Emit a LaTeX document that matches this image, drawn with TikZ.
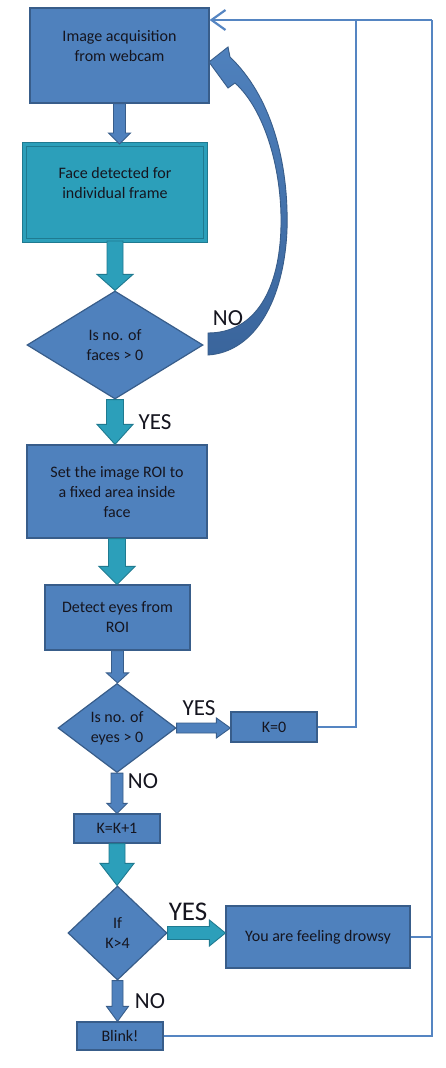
\documentclass[tikz,border=0pt]{standalone}
\usepackage{fontspec}
\setmainfont{Carlito}
\usetikzlibrary{arrows.meta,calc,shapes.geometric}

\definecolor{boxblue}{HTML}{4F81BD}
\definecolor{boxedge}{HTML}{385D8A}
\definecolor{tealfill}{HTML}{2C9FBA}
\definecolor{tealedge}{HTML}{1F7A90}
\definecolor{lineblue}{HTML}{5585C2}
\definecolor{inktext}{HTML}{15151F}
\definecolor{curvedark}{HTML}{3A659C}

% vertical block arrow: start, end, shaft half-width, head half-width, head length, style
\newcommand\downblock[6]{%
  \path[#6] let \p1=(#1), \p2=(#2) in
    (\x1-#3pt,\y1) -- (\x1+#3pt,\y1) -- (\x1+#3pt,\y2+#5pt) -- (\x1+#4pt,\y2+#5pt)
    -- (\x1,\y2) -- (\x1-#4pt,\y2+#5pt) -- (\x1-#3pt,\y2+#5pt) -- cycle;}
% horizontal block arrow, pointing right
\newcommand\rightblock[6]{%
  \path[#6] let \p1=(#1), \p2=(#2) in
    (\x1,\y1+#3pt) -- (\x2-#5pt,\y1+#3pt) -- (\x2-#5pt,\y1+#4pt) -- (\x2,\y1)
    -- (\x2-#5pt,\y1-#4pt) -- (\x2-#5pt,\y1-#3pt) -- (\x1,\y1-#3pt) -- cycle;}

\tikzset{
  box/.style={rectangle, draw=boxedge, line width=1.2pt, fill=boxblue, text=inktext,
    align=center, font=\fontsize{16}{20}\selectfont, inner sep=0pt},
  tealbox/.style={box, draw=tealedge, line width=1pt, double=tealfill, double distance=2.5pt, fill=tealfill},
  decision/.style={diamond, draw=boxedge, line width=1.2pt, fill=boxblue, text=inktext,
    align=center, font=\fontsize{16}{20}\selectfont, inner sep=0pt},
  answer/.style={text=inktext, font=\fontsize{23}{26}\selectfont, inner sep=0pt},
  blueflow/.style={fill=boxblue, draw=boxedge, line width=0.9pt},
  tealflow/.style={fill=tealfill, draw=tealedge, line width=0.9pt},
  link/.style={draw=lineblue, line width=2.2pt},
  linkarrow/.style={link, -{Straight Barb[length=14pt,width=20pt,line width=2.2pt]}},
}

\begin{document}
\begin{tikzpicture}[x=1pt,y=-1pt]
\useasboundingbox (0,0) rectangle (446,1068);
\fill[white] (0,0) rectangle (446,1068);

% process steps
\node[box, minimum width=179pt, minimum height=95pt] (acq) at (119.5,55.5) {Image acquisition\\from webcam\\ };
\node[tealbox, minimum width=181pt, minimum height=96pt] (face) at (115,192.5) {Face detected for\\individual frame\\ };
\node[decision, minimum width=176pt, minimum height=108pt] (faces) at (115,345) {Is no. of\\faces > 0};
\node[box, minimum width=180pt, minimum height=93pt] (roi) at (117,491.5) {Set the image ROI to\\a fixed area inside\\face};
\node[box, minimum width=145pt, minimum height=65pt] (eyes) at (117.5,617.5) {Detect eyes from\\ROI};
\node[decision, minimum width=118pt, minimum height=89pt, shape aspect=1.33] (eyecheck) at (117,728) {Is no. of\\eyes > 0};
\node[box, minimum width=86pt, minimum height=30pt] (reset) at (274,727) {K=0};
\node[box, minimum width=86pt, minimum height=29pt] (count) at (117,828.5) {K=K+1};
\node[decision, minimum width=99pt, minimum height=94pt] (limit) at (117.5,933) {If\\K>4};
\node[box, minimum width=184pt, minimum height=62pt] (drowsy) at (318,937) {You are feeling drowsy};
\node[box, minimum width=86pt, minimum height=28pt] (blink) at (120,1036) {Blink!};

% block arrows between steps
\downblock{acq.south}{face.north}{6}{11}{11}{blueflow}
\downblock{face.south}{faces.north}{8}{18}{16}{tealflow}
\downblock{faces.south}{roi.north}{8.5}{18}{20}{tealflow}
\downblock{roi.south}{eyes.north}{8.5}{18}{18}{tealflow}
\downblock{eyes.south}{eyecheck.north}{6}{11}{10}{blueflow}
\rightblock{eyecheck.east}{reset.west}{5}{10}{14}{blueflow}
\downblock{eyecheck.south}{count.north}{6}{10}{10}{blueflow}
\downblock{count.south}{limit.north}{8}{17}{22}{tealflow}
\rightblock{limit.east}{drowsy.west}{6.5}{13}{16}{tealflow}
\downblock{limit.south}{blink.north}{5.5}{11}{15}{blueflow}

% curved "no face" return arrow
\path[top color=boxblue, bottom color=curvedark, draw=boxedge, line width=0.9pt]
  (208,355) .. controls (255,352) and (284,300) .. (287,230)
  .. controls (289,160) and (270,95) .. (230,57)
  -- (228,47) -- (209,62) -- (228,88) -- (235,83)
  .. controls (265,110) and (282,170) .. (281,225)
  .. controls (280,290) and (255,333) .. (208,333) -- cycle;

% return lines to the acquisition step
\coordinate (rail) at (432,20);
\coordinate (join) at (356,20);
\draw[link] (reset.east) -| (join);
\draw[link] (drowsy.east) -- (drowsy.east -| rail);
\draw[link] (blink.east) -| (rail);
\draw[linkarrow] (rail) -- (acq.east |- rail);

% branch labels
\node[answer] (no1) at (228,318) {NO};
\node[answer] (yes1) at (155,422) {YES};
\node[answer] (yes2) at (199,708) {YES};
\node[answer] (no2) at (143,781) {NO};
\node[answer, font=\fontsize{27}{30}\selectfont] (yes3) at (188,912) {YES};
\node[answer] (no3) at (150,1001) {NO};
\end{tikzpicture}
\end{document}
